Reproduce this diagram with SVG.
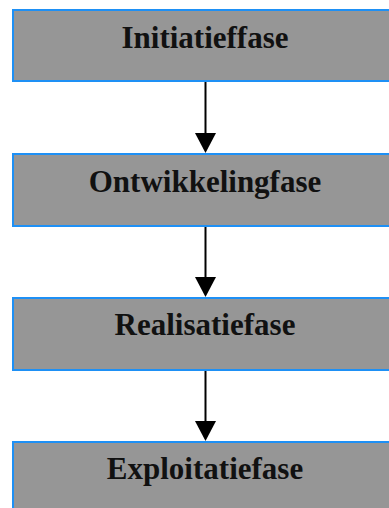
<svg xmlns="http://www.w3.org/2000/svg" width="389" height="508" viewBox="0 0 389 508">
  <style>
    .box { fill: #969696; stroke: #1e90f5; stroke-width: 2; }
    .lbl { font-family: "Liberation Serif", "Times New Roman", serif; font-weight: bold; font-size: 31px; fill: #111; text-anchor: middle; }
    .conn { stroke: #000; stroke-width: 2; fill: none; }
  </style>
  <defs>
    <marker id="arrow" markerUnits="userSpaceOnUse" markerWidth="20" markerHeight="21" viewBox="0 0 20 21" refX="0" refY="10.5" orient="auto">
      <path d="M0,0 L20,10.5 L0,21 z" fill="#000"/>
    </marker>
  </defs>
  <rect width="389" height="508" fill="#fff"/>
  <g id="node-initiatieffase">
    <rect class="box" x="13" y="10" width="386" height="71"/>
    <text class="lbl" x="205" y="48">Initiatieffase</text>
  </g>
  <g id="node-ontwikkelingfase">
    <rect class="box" x="13" y="154" width="386" height="72"/>
    <text class="lbl" x="205" y="192">Ontwikkelingfase</text>
  </g>
  <g id="node-realisatiefase">
    <rect class="box" x="13" y="298" width="386" height="72"/>
    <text class="lbl" x="205" y="335">Realisatiefase</text>
  </g>
  <g id="node-exploitatiefase">
    <rect class="box" x="13" y="442" width="386" height="72"/>
    <text class="lbl" x="205" y="479">Exploitatiefase</text>
  </g>
  <g id="connectors">
    <line class="conn" x1="205.5" y1="82" x2="205.5" y2="133" marker-end="url(#arrow)"/>
    <line class="conn" x1="205.5" y1="227" x2="205.5" y2="277" marker-end="url(#arrow)"/>
    <line class="conn" x1="205.5" y1="371" x2="205.5" y2="421" marker-end="url(#arrow)"/>
  </g>
</svg>
